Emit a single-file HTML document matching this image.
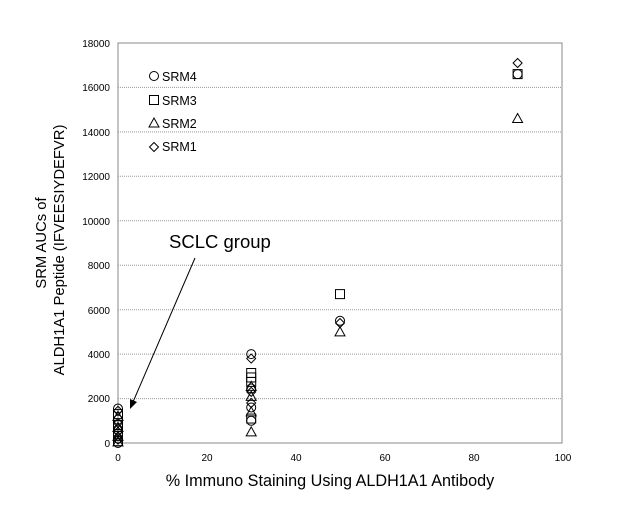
<!DOCTYPE html>
<html><head><meta charset="utf-8"><style>
body{margin:0;background:#fff;}
svg{display:block;font-family:"Liberation Sans",sans-serif;}
</style></head><body>
<svg id="s" width="634" height="522" xmlns="http://www.w3.org/2000/svg">
<rect x="0" y="0" width="634" height="522" fill="#fff"/>
<g stroke="#999" stroke-width="1" stroke-dasharray="1,1">
<line x1="118" y1="87.4" x2="562" y2="87.4"/>
<line x1="118" y1="131.9" x2="562" y2="131.9"/>
<line x1="118" y1="176.3" x2="562" y2="176.3"/>
<line x1="118" y1="220.8" x2="562" y2="220.8"/>
<line x1="118" y1="265.2" x2="562" y2="265.2"/>
<line x1="118" y1="309.7" x2="562" y2="309.7"/>
<line x1="118" y1="354.1" x2="562" y2="354.1"/>
<line x1="118" y1="398.6" x2="562" y2="398.6"/>
</g>
<rect x="118" y="43" width="444" height="400" fill="none" stroke="#888" stroke-width="1"/>
<g font-size="10" fill="#000" text-anchor="end">
<text x="110" y="47">18000</text><text x="110" y="91">16000</text><text x="110" y="136">14000</text>
<text x="110" y="180">12000</text><text x="110" y="225">10000</text><text x="110" y="269">8000</text>
<text x="110" y="314">6000</text><text x="110" y="358">4000</text><text x="110" y="402">2000</text>
<text x="110" y="447">0</text>
</g>
<g font-size="10" text-anchor="middle">
<text x="118" y="461">0</text><text x="207" y="461">20</text><text x="296" y="461">40</text>
<text x="385" y="461">60</text><text x="474" y="461">80</text><text x="563" y="461">100</text>
</g>
<text x="330" y="486" font-size="16.2" text-anchor="middle">% Immuno Staining Using ALDH1A1 Antibody</text>
<text transform="translate(46,243) rotate(-90)" font-size="14.8" text-anchor="middle">SRM AUCs of</text>
<text transform="translate(64,250) rotate(-90)" font-size="14.8" text-anchor="middle">ALDH1A1 Peptide (IFVEESIYDEFVR)</text>
<text x="169" y="248" font-size="18.5">SCLC group</text>
<line x1="195" y1="258" x2="133" y2="402" stroke="#000" stroke-width="1"/>
<polygon points="130,409 130,399 137,402" fill="#000"/>
<g font-size="12.5">
<text x="162" y="81">SRM4</text><text x="162" y="105">SRM3</text>
<text x="162" y="128">SRM2</text><text x="162" y="151">SRM1</text>
</g>
<g id="m" fill="none" stroke="#000" stroke-width="1"></g>
</svg>
<script>
var g=document.getElementById('m');var ns="http://www.w3.org/2000/svg";
function X(v){return 118+v*4.44}function Y(v){return 443-v*400/18000}
function mk(t,x,y){var e;
if(t=='c'){e=document.createElementNS(ns,'circle');e.setAttribute('cx',x);e.setAttribute('cy',y);e.setAttribute('r',4.5);}
else if(t=='s'){e=document.createElementNS(ns,'rect');e.setAttribute('x',x-4.5);e.setAttribute('y',y-4.5);e.setAttribute('width',9);e.setAttribute('height',9);}
else if(t=='t'){e=document.createElementNS(ns,'polygon');e.setAttribute('points',(x-5)+','+(y+4)+' '+(x+5)+','+(y+4)+' '+x+','+(y-5));}
else {e=document.createElementNS(ns,'polygon');e.setAttribute('points',x+','+(y-4.5)+' '+(x+4.5)+','+y+' '+x+','+(y+4.5)+' '+(x-4.5)+','+y);}
g.appendChild(e);}
mk('c',154,76);mk('s',154,100);mk('t',154,123);mk('d',154,147);
var P=[['c',90,16600],['s',90,16600],['d',90,17100],['t',90,14600],
['s',50,6700],['c',50,5500],['d',50,5400],['t',50,5000],
['c',30,4000],['d',30,3800],['s',30,3150],['s',30,2950],['s',30,2750],['t',30,2550],['c',30,2450],['d',30,2300],['t',30,2100],['d',30,1800],['c',30,1600],['t',30,1400],['s',30,1100],['c',30,1000],['t',30,500],
['c',0,1550],['d',0,1450],['s',0,1300],['t',0,1200],['c',0,1050],['d',0,900],['s',0,800],['t',0,700],['c',0,600],['d',0,500],['s',0,400],['t',0,300],['c',0,200],['d',0,150],['s',0,80],['t',0,50],['c',0,0]];
P.forEach(function(p){mk(p[0],X(p[1]),Y(p[2]));});
</script>
</body></html>
